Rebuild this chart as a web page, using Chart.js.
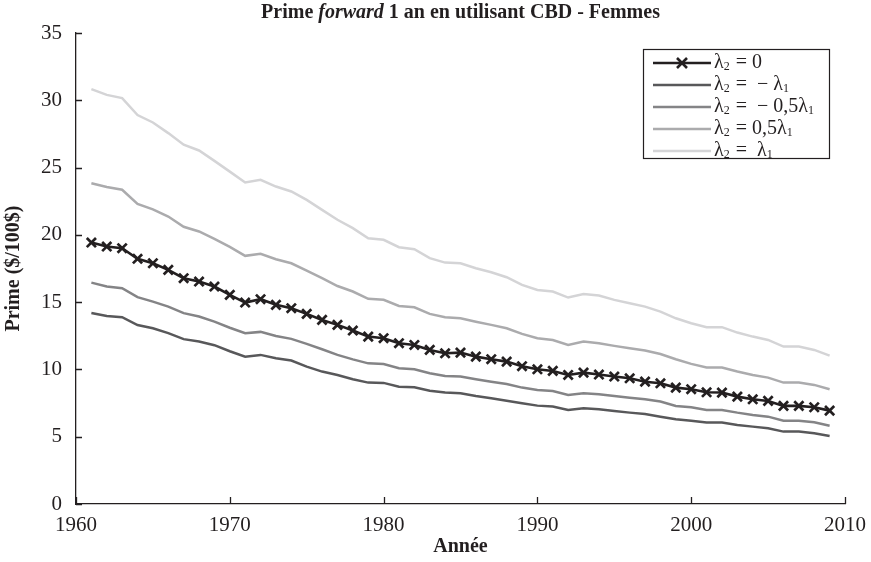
<!DOCTYPE html>
<html>
<head>
<meta charset="utf-8">
<script src="https://cdn.jsdelivr.net/npm/chart.js@4/dist/chart.umd.min.js"></script>
<style>
  html, body { margin: 0; padding: 0; background: #fff; }
  #wrap { width: 871px; height: 562px; position: relative; }
</style>
</head>
<body>
<div id="wrap"><canvas id="primeChart" width="871" height="562"></canvas></div>
<script>
// années 1961 - 2009
const years = [
  1961, 1962, 1963, 1964, 1965, 1966, 1967, 1968, 1969, 1970,
  1971, 1972, 1973, 1974, 1975, 1976, 1977, 1978, 1979, 1980,
  1981, 1982, 1983, 1984, 1985, 1986, 1987, 1988, 1989, 1990,
  1991, 1992, 1993, 1994, 1995, 1996, 1997, 1998, 1999, 2000,
  2001, 2002, 2003, 2004, 2005, 2006, 2007, 2008, 2009
];

// lambda2 = 0
const primeZero = [
  19.43, 19.13, 19.01, 18.22, 17.89, 17.40, 16.78, 16.53, 16.16, 15.54,
  14.97, 15.22, 14.80, 14.55, 14.13, 13.68, 13.31, 12.89, 12.44, 12.32,
  11.95, 11.82, 11.45, 11.20, 11.25, 10.95, 10.76, 10.58, 10.24, 10.01,
  9.89, 9.59, 9.76, 9.62, 9.47, 9.34, 9.09, 8.97, 8.65, 8.53,
  8.30, 8.28, 7.98, 7.78, 7.66, 7.29, 7.29, 7.19, 6.94
];

// lambda2 = -lambda1
const primeMinusOne = [
  14.20, 13.97, 13.88, 13.30, 13.06, 12.70, 12.25, 12.07, 11.80, 11.35,
  10.95, 11.08, 10.83, 10.66, 10.21, 9.84, 9.59, 9.27, 9.02, 9.00,
  8.72, 8.67, 8.42, 8.28, 8.23, 8.03, 7.86, 7.68, 7.49, 7.31,
  7.24, 6.99, 7.11, 7.04, 6.91, 6.79, 6.69, 6.49, 6.30, 6.19,
  6.05, 6.05, 5.87, 5.75, 5.63, 5.38, 5.38, 5.26, 5.06
];

// lambda2 = -0,5 lambda1
const primeMinusHalf = [
  16.45, 16.16, 16.04, 15.37, 15.04, 14.67, 14.18, 13.93, 13.55, 13.10,
  12.69, 12.79, 12.49, 12.27, 11.90, 11.50, 11.08, 10.75, 10.45, 10.40,
  10.09, 10.01, 9.72, 9.52, 9.47, 9.27, 9.09, 8.92, 8.65, 8.48,
  8.40, 8.10, 8.23, 8.16, 8.03, 7.90, 7.78, 7.61, 7.29, 7.19,
  6.99, 6.99, 6.79, 6.62, 6.49, 6.19, 6.19, 6.07, 5.82
];

// lambda2 = 0,5 lambda1
const primeHalf = [
  23.84, 23.55, 23.35, 22.30, 21.90, 21.36, 20.60, 20.25, 19.70, 19.10,
  18.44, 18.59, 18.19, 17.89, 17.35, 16.78, 16.20, 15.79, 15.25, 15.17,
  14.72, 14.62, 14.13, 13.88, 13.80, 13.55, 13.31, 13.06, 12.64, 12.32,
  12.19, 11.82, 12.07, 11.95, 11.75, 11.57, 11.40, 11.15, 10.76, 10.41,
  10.14, 10.14, 9.84, 9.59, 9.39, 9.02, 9.02, 8.85, 8.53
];

// lambda2 = lambda1
const primeOne = [
  30.83, 30.40, 30.16, 28.90, 28.35, 27.56, 26.70, 26.27, 25.50, 24.70,
  23.89, 24.09, 23.59, 23.22, 22.60, 21.86, 21.12, 20.50, 19.75, 19.63,
  19.08, 18.93, 18.27, 17.94, 17.89, 17.52, 17.22, 16.85, 16.28, 15.91,
  15.79, 15.34, 15.61, 15.49, 15.17, 14.92, 14.67, 14.30, 13.80, 13.43,
  13.14, 13.14, 12.74, 12.44, 12.19, 11.70, 11.70, 11.45, 11.03
];

// legende: texte / indice alternés
const legendParts = [
  ["λ", "2", " = 0", ""],
  ["λ", "2", " =  − λ", "1"],
  ["λ", "2", " =  − 0,5λ", "1"],
  ["λ", "2", " = 0,5λ", "1"],
  ["λ", "2", " =  λ", "1"]
];

const INK = "#231f20";
const SERIF = "'Liberation Serif', 'Times New Roman', serif";

function pts(vals) {
  return vals.map((v, i) => ({ x: years[i], y: v }));
}

// titre avec "forward" en italique
const titlePlugin = {
  id: "mixedTitle",
  afterDraw(chart) {
    const { ctx, chartArea } = chart;
    const parts = [
      ["bold 20px " + SERIF, "Prime "],
      ["italic bold 20px " + SERIF, "forward"],
      ["bold 20px " + SERIF, " 1 an en utilisant CBD - Femmes"]
    ];
    ctx.save();
    ctx.fillStyle = INK;
    ctx.textBaseline = "middle";
    let total = 0;
    parts.forEach(p => { ctx.font = p[0]; total += ctx.measureText(p[1]).width; });
    let x = (chartArea.left + chartArea.right) / 2 - total / 2;
    parts.forEach(p => {
      ctx.font = p[0];
      ctx.fillText(p[1], x, 13);
      x += ctx.measureText(p[1]).width;
    });
    ctx.restore();
  }
};

// petites graduations vers l'intérieur
const innerTicks = {
  id: "innerTicks",
  afterDraw(chart) {
    const { ctx, chartArea, scales } = chart;
    ctx.save();
    ctx.strokeStyle = INK;
    ctx.lineWidth = 1.3;
    ctx.beginPath();
    scales.y.ticks.forEach(t => {
      const py = Math.round(scales.y.getPixelForValue(t.value)) + 0.5;
      ctx.moveTo(chartArea.left, py);
      ctx.lineTo(chartArea.left + 6, py);
    });
    scales.x.ticks.forEach(t => {
      const px = Math.round(scales.x.getPixelForValue(t.value)) + 0.5;
      ctx.moveTo(px, chartArea.bottom);
      ctx.lineTo(px, chartArea.bottom - 7);
    });
    ctx.stroke();
    ctx.restore();
  }
};

// legende encadrée en haut à droite
const boxLegend = {
  id: "boxLegend",
  afterDraw(chart) {
    const { ctx } = chart;
    const bx = 643, by = 49, bw = 186, bh = 109;
    ctx.save();
    ctx.fillStyle = "#fff";
    ctx.fillRect(bx, by, bw, bh);
    ctx.strokeStyle = INK;
    ctx.lineWidth = 1.2;
    ctx.strokeRect(bx + 0.5, by + 0.5, bw, bh);

    chart.data.datasets.forEach((ds, i) => {
      const yy = 63 + i * 22;
      ctx.strokeStyle = ds.borderColor;
      ctx.lineWidth = ds.borderWidth;
      ctx.beginPath();
      ctx.moveTo(653, yy);
      ctx.lineTo(711, yy);
      ctx.stroke();
      if (ds.pointRadius > 0) {
        const cx = 682, r = 5;
        ctx.lineWidth = 2.6;
        ctx.beginPath();
        ctx.moveTo(cx - r, yy - r); ctx.lineTo(cx + r, yy + r);
        ctx.moveTo(cx - r, yy + r); ctx.lineTo(cx + r, yy - r);
        ctx.stroke();
      }
      // texte avec indices
      ctx.fillStyle = INK;
      ctx.textBaseline = "alphabetic";
      let x = 714;
      legendParts[i].forEach((s, k) => {
        if (!s) return;
        const sub = k % 2 === 1;
        ctx.font = (sub ? "12px " : "20px ") + SERIF;
        ctx.fillText(s, x, yy + (sub ? 7 : 5));
        x += ctx.measureText(s).width + (sub ? 1 : 0);
      });
    });
    ctx.restore();
  }
};

const seriesDefs = [
  { label: "λ2 = 0", data: primeZero, color: INK, marker: true },
  { label: "λ2 = -λ1", data: primeMinusOne, color: "#58585a", marker: false },
  { label: "λ2 = -0,5λ1", data: primeMinusHalf, color: "#848486", marker: false },
  { label: "λ2 = 0,5λ1", data: primeHalf, color: "#ababad", marker: false },
  { label: "λ2 = λ1", data: primeOne, color: "#d4d4d6", marker: false }
];

new Chart(document.getElementById("primeChart"), {
  type: "line",
  data: {
    datasets: seriesDefs.map(s => ({
      label: s.label,
      data: pts(s.data),
      borderColor: s.color,
      backgroundColor: s.color,
      borderWidth: s.marker ? 2.6 : 2.5,
      pointStyle: "crossRot",
      pointRadius: s.marker ? 6.5 : 0,
      pointBorderWidth: 2.7,
      pointBorderColor: s.color,
      tension: 0,
      fill: false
    }))
  },
  options: {
    responsive: false,
    animation: false,
    layout: { padding: { top: 33, right: 26, left: 0, bottom: 0 } },
    plugins: {
      legend: { display: false },
      title: { display: false },
      tooltip: { enabled: false }
    },
    scales: {
      x: {
        type: "linear",
        min: 1960,
        max: 2010,
        ticks: {
          stepSize: 10,
          padding: 9,
          color: INK,
          font: { family: SERIF, size: 21 },
          maxRotation: 0,
          callback: v => String(v)
        },
        grid: { display: false, drawTicks: false },
        border: { display: true, color: INK, width: 1.3 },
        title: {
          display: true,
          text: "Année",
          color: INK,
          font: { family: SERIF, size: 20, weight: "bold" },
          padding: { top: 0, bottom: 3 }
        },
        afterFit(scale) {
          scale.height = 58;
          scale.paddingLeft = 0;
          scale.paddingRight = 0;
        }
      },
      y: {
        min: 0,
        max: 35,
        ticks: {
          stepSize: 5,
          padding: 14,
          color: INK,
          font: { family: SERIF, size: 21 }
        },
        grid: { display: false, drawTicks: false },
        border: { display: true, color: INK, width: 1.3 },
        title: {
          display: true,
          text: "Prime ($/100$)",
          color: INK,
          font: { family: SERIF, size: 20, weight: "bold" },
          padding: { top: 2, bottom: 0 }
        },
        afterFit(scale) {
          scale.width = 76;
          scale.paddingTop = 0;
          scale.paddingBottom = 0;
        }
      }
    }
  },
  plugins: [innerTicks, titlePlugin, boxLegend]
});
</script>
</body>
</html>
